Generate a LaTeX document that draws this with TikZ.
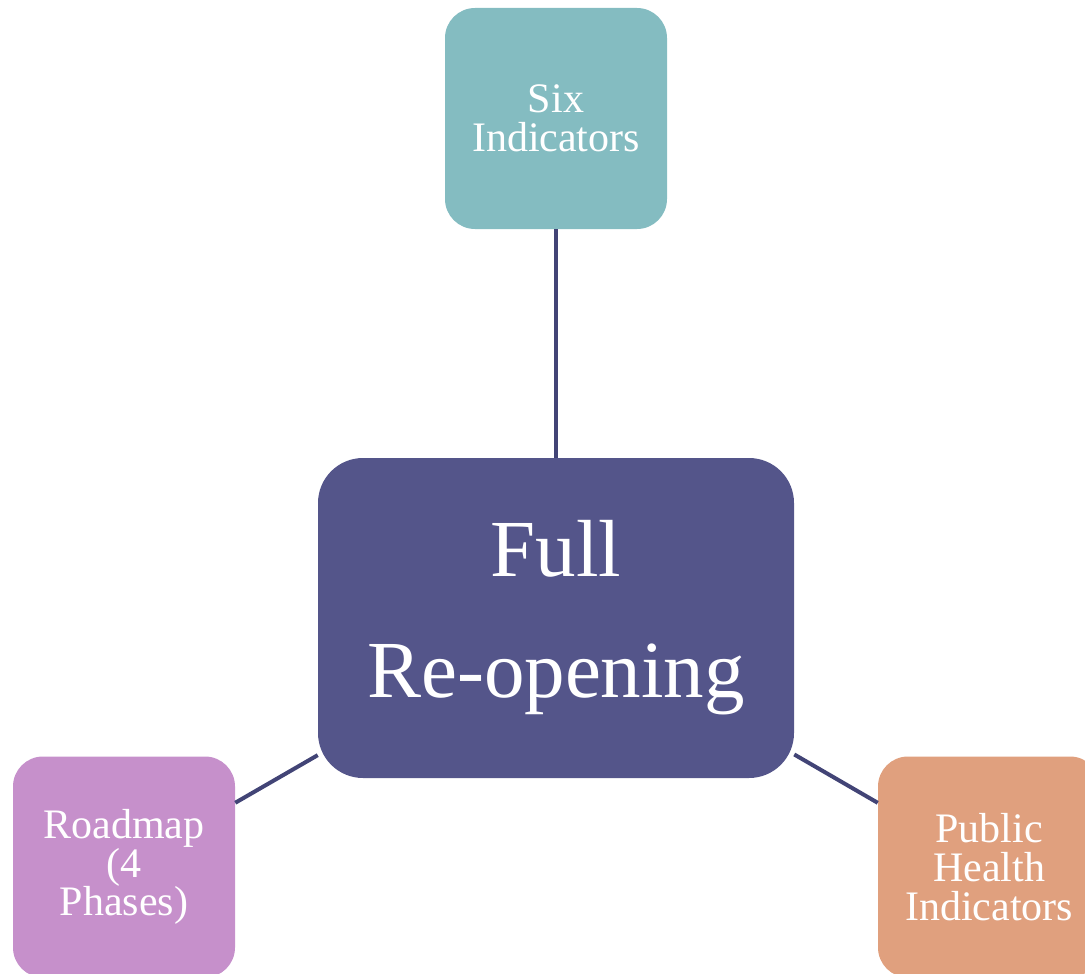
\documentclass[tikz,border=0pt]{standalone}
\usepackage{fontspec}
\setmainfont{Liberation Serif}
\usepackage{tikz}
\usetikzlibrary{positioning}

\definecolor{tealbox}{HTML}{84BCC1}
\definecolor{mainbox}{HTML}{54558A}
\definecolor{pinkbox}{HTML}{C690CB}
\definecolor{orangebox}{HTML}{E0A07E}
\definecolor{linkline}{HTML}{424476}

\begin{document}
\begin{tikzpicture}[x=0.75pt,y=0.75pt,yscale=-1,xscale=1,
  smallbox/.style={rounded corners=22.5pt, text=white, align=center,
    minimum width=166.5pt, minimum height=165.75pt, inner sep=0pt,
    font=\fontsize{31.5}{29}\selectfont},
  bigbox/.style={fill=mainbox, rounded corners=33.75pt, text=white, align=center,
    minimum width=357pt, minimum height=240pt, inner sep=0pt,
    font=\fontsize{60.75}{90.75}\selectfont},
  link/.style={draw=linkline, line width=3pt}]
%set diagram size
\useasboundingbox (0,0) rectangle (1085,974);

% Center Node
\node [bigbox] (full) at (556,618) {Full\\Re-opening};
% Outer Nodes
\node [smallbox, fill=tealbox] (six) at (556,118.5) {Six\\Indicators};
\node [smallbox, fill=pinkbox] (road) at (124,867) {Roadmap\\(4\\Phases)};
\node [smallbox, fill=orangebox] (health) at (989,867) {Public\\Health\\Indicators};

%Straight Lines
\draw [link] (six) -- (full);
\draw [link] (road) -- (full);
\draw [link] (health) -- (full);
\end{tikzpicture}
\end{document}
